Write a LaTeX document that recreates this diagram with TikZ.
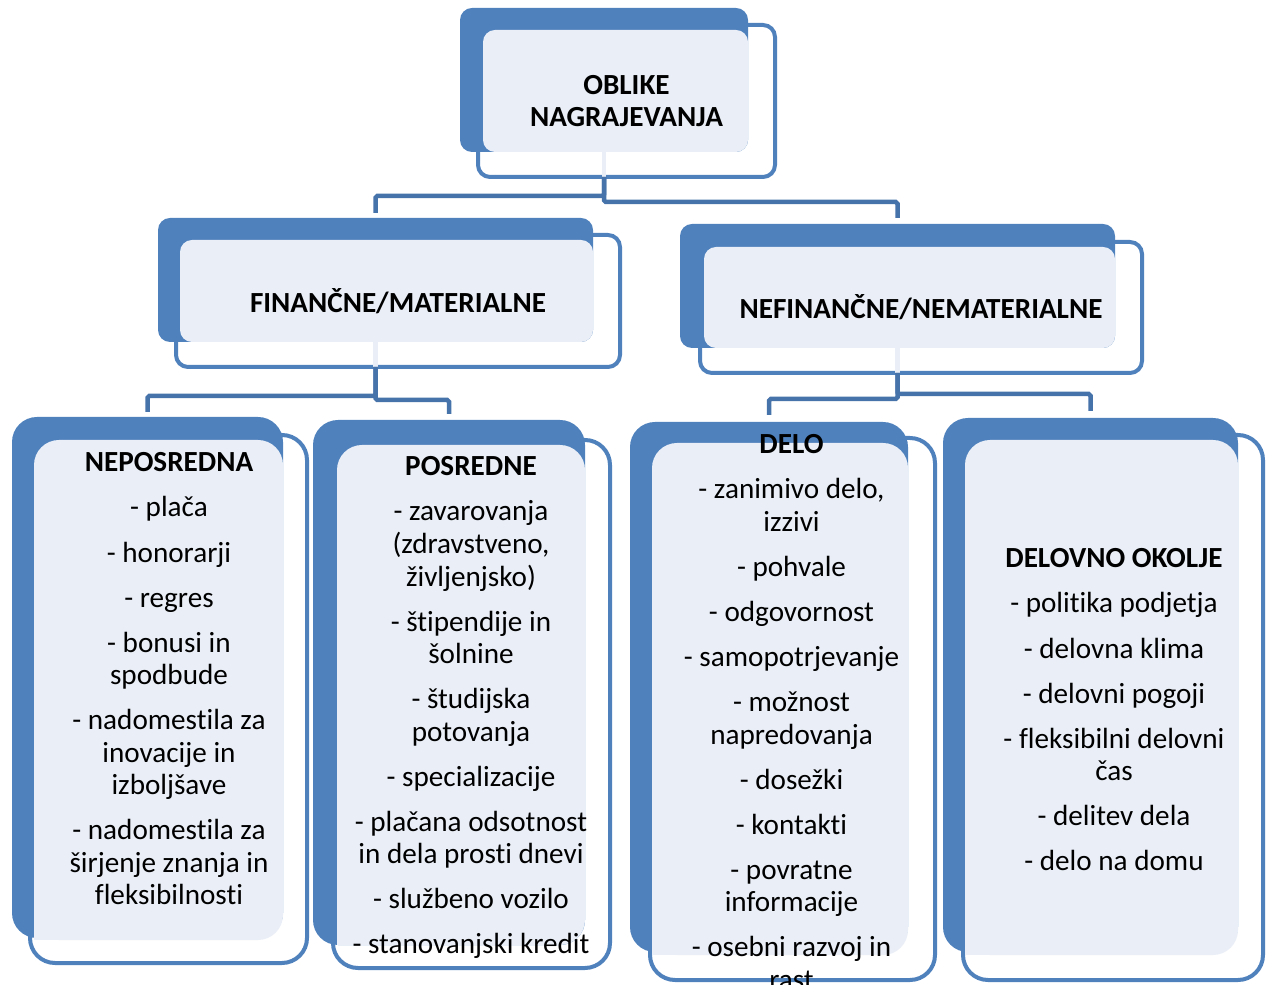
\documentclass[tikz,border=0pt]{standalone}
\usepackage{fontspec}
\setmainfont{Carlito}[Ligatures = NoCommon]
\usetikzlibrary{fit}
\definecolor{boxblue}{HTML}{4F81BD}
\definecolor{boxface}{HTML}{EAEFF7}
\definecolor{linkblue}{HTML}{4773AB}

\begin{document}
\begin{tikzpicture}[
    rimbox/.style = {draw = boxblue, line width = 0.08cm, fill = white, inner sep = 0pt, outer sep = 0pt},
    backbox/.style = {fill = boxblue, inner sep = 0pt, outer sep = 0pt},
    facebox/.style = {fill = boxface, inner sep = 0pt, outer sep = 0pt},
    boxtext/.style = {align = center, inner sep = 0pt, font = \fontsize{16.6}{18.5}\selectfont},
    headtext/.style = {align = center, inner sep = 0pt, font = \fontsize{16.6}{18.5}\selectfont\bfseries},
    link/.style = {draw = linkblue, line width = 0.09cm, rounded corners = 1pt}
]
    \useasboundingbox (0, 0) rectangle (25.34, -19.7);

    \node[rimbox, rounded corners = 0.24cm, fit = {(9.56, -0.5) (15.5, -3.54)}] (oblike-o) {};
    \node[backbox, rounded corners = 0.24cm, fit = {(9.2, -0.16) (14.96, -3.04)}] (oblike) {};
    \node[facebox, rounded corners = 0.24cm, fit = {(9.66, -0.6) (14.96, -3.04)}] (oblike-f) {};
    \node[headtext] (oblike-t) at (oblike-o.center) {OBLIKE\\NAGRAJEVANJA};

    \node[rimbox, rounded corners = 0.24cm, fit = {(3.52, -4.7) (12.4, -7.34)}] (financne-o) {};
    \node[backbox, rounded corners = 0.24cm, fit = {(3.16, -4.36) (11.86, -6.84)}] (financne) {};
    \node[facebox, rounded corners = 0.24cm, fit = {(3.6, -4.8) (11.86, -6.84)}] (financne-f) {};
    \node[headtext] (financne-t) at (financne-o.center) {FINANČNE/MATERIALNE};

    \node[rimbox, rounded corners = 0.24cm, fit = {(14.0, -4.84) (22.84, -7.46)}] (nefinancne-o) {};
    \node[backbox, rounded corners = 0.24cm, fit = {(13.6, -4.48) (22.3, -6.96)}] (nefinancne) {};
    \node[facebox, rounded corners = 0.24cm, fit = {(14.08, -4.94) (22.3, -6.96)}] (nefinancne-f) {};
    \node[headtext] (nefinancne-t) at (nefinancne-o.center) {NEFINANČNE/NEMATERIALNE};

    \node[rimbox, rounded corners = 0.5cm, fit = {(0.6, -8.7) (6.14, -19.26)}] (neposredna-o) {};
    \node[backbox, rounded corners = 0.5cm, fit = {(0.24, -8.34) (5.66, -18.76)}] (neposredna) {};
    \node[facebox, rounded corners = 0.5cm, fit = {(0.68, -8.8) (5.66, -18.8)}] (neposredna-f) {};
    \fill[boxface] (neposredna-f.south west) rectangle ++(0.5, 0.5);
    \node[boxtext, anchor = north] (neposredna-t) at (3.38, -9.05) {\textbf{NEPOSREDNA}\\[0.25cm]- plača\\[0.25cm]- honorarji\\[0.25cm]- regres\\[0.25cm]- bonusi in\\spodbude\\[0.25cm]- nadomestila za\\inovacije in\\izboljšave\\[0.25cm]- nadomestila za\\širjenje znanja in\\fleksibilnosti};

    \node[rimbox, rounded corners = 0.5cm, fit = {(6.66, -8.8) (12.2, -19.36)}] (posredne-o) {};
    \node[backbox, rounded corners = 0.5cm, fit = {(6.26, -8.4) (11.7, -18.9)}] (posredne) {};
    \node[facebox, rounded corners = 0.5cm, fit = {(6.74, -8.9) (11.7, -18.9)}] (posredne-f) {};
    \fill[boxface] (posredne-f.south west) rectangle ++(0.5, 0.5);
    \node[boxtext, anchor = north] (posredne-t) at (9.42, -9.13) {\textbf{POSREDNE}\\[0.25cm]- zavarovanja\\(zdravstveno,\\življenjsko)\\[0.25cm]- štipendije in\\šolnine\\[0.25cm]- študijska\\potovanja\\[0.25cm]- specializacije\\[0.25cm]- plačana odsotnost\\in dela prosti dnevi\\[0.25cm]- službeno vozilo\\[0.25cm]- stanovanjski kredit};

    \node[rimbox, rounded corners = 0.5cm, fit = {(13.0, -8.76) (18.7, -19.6)}] (delo-o) {};
    \node[backbox, rounded corners = 0.5cm, fit = {(12.6, -8.44) (18.16, -19.04)}] (delo) {};
    \node[facebox, rounded corners = 0.5cm, fit = {(13.04, -8.86) (18.16, -19.1)}] (delo-f) {};
    \fill[boxface] (delo-f.south west) rectangle ++(0.5, 0.5);
    \node[boxtext, anchor = north] (delo-t) at (15.83, -8.69) {\textbf{DELO}\\[0.25cm]- zanimivo delo,\\izzivi\\[0.25cm]- pohvale\\[0.25cm]- odgovornost\\[0.25cm]- samopotrjevanje\\[0.25cm]- možnost\\napredovanja\\[0.25cm]- dosežki\\[0.25cm]- kontakti\\[0.25cm]- povratne\\informacije\\[0.25cm]- osebni razvoj in\\rast};

    \node[rimbox, rounded corners = 0.5cm, fit = {(19.26, -8.7) (25.26, -19.6)}] (okolje-o) {};
    \node[backbox, rounded corners = 0.5cm, fit = {(18.86, -8.36) (24.76, -19.04)}] (okolje) {};
    \node[facebox, rounded corners = 0.5cm, fit = {(19.3, -8.8) (24.76, -19.1)}] (okolje-f) {};
    \fill[boxface] (okolje-f.south west) rectangle ++(0.5, 0.5);
    \node[boxtext, anchor = north] (okolje-t) at (22.28, -10.97) {\textbf{DELOVNO OKOLJE}\\[0.25cm]- politika podjetja\\[0.25cm]- delovna klima\\[0.25cm]- delovni pogoji\\[0.25cm]- fleksibilni delovni\\čas\\[0.25cm]- delitev dela\\[0.25cm]- delo na domu};

    \draw[link, draw = boxface, rounded corners = 0pt] (oblike.south) -- (oblike.south |- oblike-o.south);
    \draw[link, draw = boxface, rounded corners = 0pt] (financne.south) -- (financne.south |- financne-o.south);
    \draw[link, draw = boxface, rounded corners = 0pt] (nefinancne.south) -- (nefinancne.south |- nefinancne-o.south);

    \draw[link] (oblike.south |- oblike-o.south) -- ++(0, -0.38) -| ([yshift = 0.1cm]financne.north);
    \draw[link] (oblike.south |- oblike-o.south) -- ++(0, -0.5) -| ([yshift = 0.12cm]nefinancne.north);
    \draw[link] (financne.south |- financne-o.south) -- ++(0, -0.58) -| ([yshift = 0.1cm]neposredna.north);
    \draw[link] (financne.south |- financne-o.south) -- ++(0, -0.66) -| ([yshift = 0.12cm]posredne.north);
    \draw[link] (nefinancne.south |- nefinancne-o.south) -- ++(0, -0.52) -| ([yshift = 0.14cm]delo.north);
    \draw[link] (nefinancne.south |- nefinancne-o.south) -- ++(0, -0.42) -| ([yshift = 0.14cm]okolje.north);
\end{tikzpicture}
\end{document}
